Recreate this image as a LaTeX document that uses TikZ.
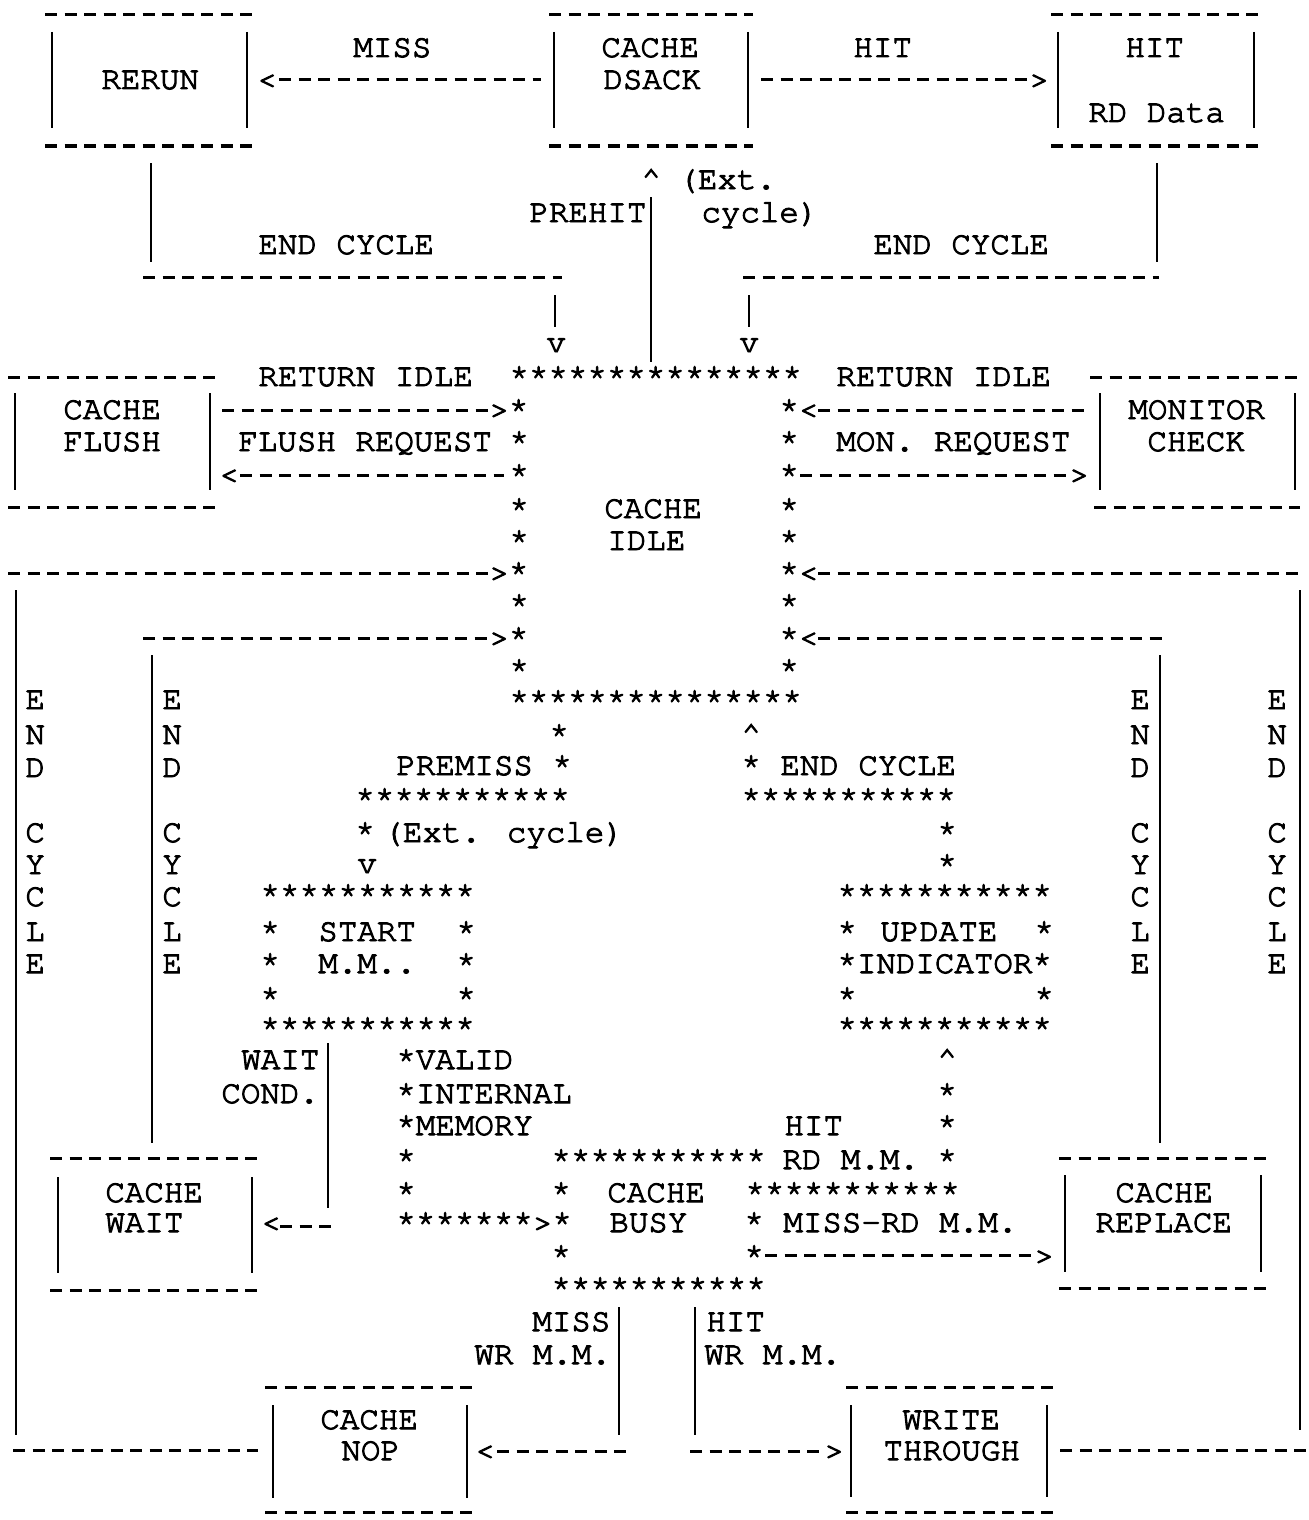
\documentclass[tikz,border=0pt]{standalone}
\usepackage{fontspec}
\newfontfamily\tw[FakeBold=3]{TeX Gyre Cursor}
\newcounter{tn}
\newcommand\T[3]{\stepcounter{tn}\node[tt] (t\arabic{tn}) at (#1,#2+9) {#3};}
\newcommand\Dl[3]{\draw[dl] (#2,#1) -- (#3,#1);}
\newcommand\Vb[3]{\draw[vb] (#1,#2) -- (#1,#3);}
\begin{document}
\begin{tikzpicture}[x=0.5pt,y=-0.5pt,
 tt/.style={anchor=base west,inner sep=0pt,font=\tw\fontsize{16.25}{18}\selectfont},
 dl/.style={line width=1.5pt,dash pattern=on 6pt off 3.75pt},
 vb/.style={line width=1.3pt}]
\useasboundingbox[fill=white] (0,0) rectangle (1308,1520);
% top boxes
\Dl{15}{45}{253} \Dl{146}{45}{253} \Vb{52}{32}{128} \Vb{247}{32}{128}
\Dl{15}{549}{753} \Dl{146}{549}{753} \Vb{554}{32}{128} \Vb{748}{32}{128}
\Dl{15}{1051}{1259} \Dl{146}{1051}{1259} \Vb{1058}{32}{128} \Vb{1254}{32}{128}
\T{353}{48}{MISS} \T{601}{48}{CACHE} \T{853}{48}{HIT} \T{1125}{48}{HIT}
\T{101}{80}{RERUN} \T{257}{80}{<} \Dl{80}{279}{541} \T{603}{80}{DSACK} \Dl{80}{761}{1028} \T{1029}{80}{>}
\T{1088}{113}{RD Data}
\Vb{151}{163}{262} \Vb{1157}{163}{262} \Vb{651}{197}{362}
\T{641}{180}{\textasciicircum} \T{678}{180}{(Ext.}
\T{529}{213}{PREHIT} \T{701}{213}{cycle)}
\T{258}{245}{END CYCLE} \T{873}{245}{END CYCLE}
\Dl{277}{143}{562} \Dl{277}{743}{1159}
\Vb{555}{295}{327} \Vb{749}{295}{327}
\T{546}{343}{v} \T{739}{343}{v}
\Dl{377}{8}{215} \T{258}{377}{RETURN IDLE} \T{509}{377}{***************} \T{836}{377}{RETURN IDLE} \Dl{377}{1090}{1302}
% flush / monitor
\Vb{15}{393}{490} \Vb{210}{393}{490} \Vb{1100}{393}{490} \Vb{1295}{393}{490}
\T{63}{410}{CACHE} \Dl{410}{222}{490} \T{489}{410}{>*} \T{779}{410}{*<} \Dl{410}{818}{1085} \T{1128}{410}{MONITOR}
\T{63}{442}{FLUSH} \T{238}{442}{FLUSH REQUEST} \T{509}{442}{*} \T{779}{442}{*} \T{836}{442}{MON. REQUEST} \T{1147}{442}{CHECK}
\T{219}{475}{<} \Dl{475}{240}{504} \T{509}{475}{*} \T{779}{475}{*} \Dl{475}{800}{1068} \T{1069}{475}{>}
\Dl{507}{8}{215} \T{509}{509}{*} \T{604}{509}{CACHE} \T{779}{509}{*} \Dl{507}{1094}{1300}
\T{509}{541}{*} \T{607}{541}{IDLE} \T{779}{541}{*}
\Dl{573}{8}{490} \T{489}{573}{>*} \T{779}{573}{*<} \Dl{573}{818}{1305}
\Vb{16}{590}{1435} \Vb{1300}{590}{1430}
\T{509}{605}{*} \T{779}{605}{*}
\Dl{638}{143}{490} \T{489}{638}{>*} \T{779}{638}{*<} \Dl{638}{818}{1165}
\Vb{152}{655}{1143} \Vb{1160}{655}{1143}
\T{509}{670}{*} \T{779}{670}{*}
\T{509}{701}{***************}
\foreach \ch/\L in {E/700,N/735,D/768,C/833,Y/865,C/897,L/932,E/964}{
  \T{25}{\L}{\ch} \T{162}{\L}{\ch} \T{1130}{\L}{\ch} \T{1267}{\L}{\ch}
}
% middle
\T{549}{735}{*} \T{741}{735}{\textasciicircum}
\T{396}{766}{PREMISS *} \T{741}{766}{* END CYCLE}
\T{355}{799}{***********} \T{741}{799}{***********}
\T{355}{833}{*} \T{383}{833}{(Ext. cycle)} \T{937}{833}{*}
\T{357}{864}{v} \T{937}{865}{*}
\T{260}{895}{***********} \T{837}{895}{***********}
\T{260}{932}{*} \T{318}{932}{START} \T{456}{932}{*} \T{837}{932}{*} \T{880}{932}{UPDATE} \T{1034}{932}{*}
\T{260}{964}{*} \T{318}{964}{M.M..} \T{456}{964}{*} \T{837}{964}{*INDICATOR*}
\T{260}{998}{*} \T{456}{998}{*} \T{837}{998}{*} \T{1034}{998}{*}
\T{260}{1028}{***********} \T{837}{1028}{***********}
\T{241}{1060}{WAIT} \Vb{328}{1043}{1208} \T{396}{1060}{*VALID} \T{937}{1060}{\textasciicircum}
\T{221}{1094}{COND.} \T{396}{1094}{*INTERNAL} \T{937}{1094}{*}
\T{396}{1126}{*MEMORY} \T{784}{1126}{HIT} \T{937}{1126}{*}
% lower
\Dl{1158}{50}{257} \T{396}{1160}{*} \T{551}{1160}{***********} \T{782}{1160}{RD M.M.} \T{937}{1160}{*} \Dl{1158}{1059}{1267}
\Vb{58}{1177}{1273} \Vb{252}{1177}{1273} \Vb{1065}{1175}{1272} \Vb{1261}{1175}{1272}
\T{105}{1193}{CACHE} \T{396}{1193}{*} \T{551}{1193}{*} \T{607}{1193}{CACHE} \T{745}{1193}{***********} \T{1115}{1193}{CACHE}
\T{105}{1223}{WAIT} \T{261}{1223}{<} \Dl{1226}{280}{335} \T{396}{1223}{*******>*} \T{609}{1223}{BUSY} \T{744}{1223}{* MISS-RD M.M.} \T{1095}{1223}{REPLACE}
\T{551}{1256}{*} \T{744}{1256}{*} \Dl{1255}{765}{1033} \T{1034}{1256}{>}
\Dl{1290}{50}{257} \T{551}{1288}{***********} \Dl{1288}{1059}{1267}
\Vb{619}{1307}{1435} \Vb{695}{1307}{1435}
\T{532}{1322}{MISS} \T{706}{1322}{HIT}
\T{474}{1355}{WR M.M.} \T{704}{1355}{WR M.M.}
\Dl{1387}{265}{475} \Dl{1387}{846}{1054}
\Vb{273}{1405}{1498} \Vb{467}{1405}{1498} \Vb{851}{1405}{1497} \Vb{1047}{1405}{1497}
\T{320}{1420}{CACHE} \T{902}{1420}{WRITE}
\Dl{1450}{13}{258} \T{341}{1451}{NOP} \T{475}{1451}{<} \Dl{1451}{497}{626} \Dl{1451}{690}{822} \T{824}{1451}{>} \T{883}{1451}{THROUGH} \Dl{1450}{1060}{1308}
\Dl{1512}{265}{475} \Dl{1512}{846}{1054}
\end{tikzpicture}
\end{document}
